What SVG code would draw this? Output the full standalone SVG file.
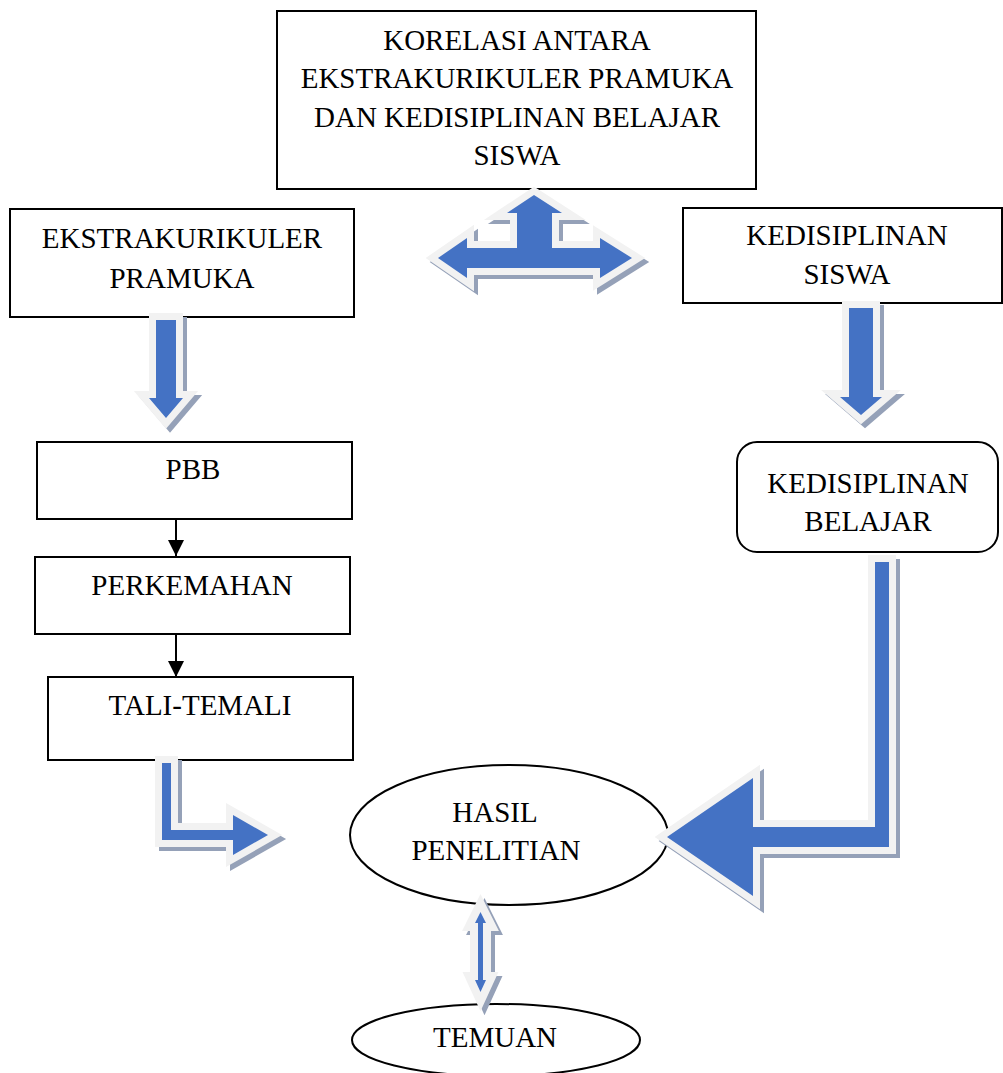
<svg xmlns="http://www.w3.org/2000/svg" width="1003" height="1073" viewBox="0 0 1003 1073">
<style>
.box{fill:#fff;stroke:#000;stroke-width:2}
.t{font-family:"Liberation Serif","Times New Roman",serif;font-size:29px;fill:#000;text-anchor:middle}
.shadow{fill:#95a1b8;stroke:#95a1b8;stroke-width:14;stroke-linejoin:miter;stroke-miterlimit:6}
.blk{fill:#4472c4;stroke:#f2f2f2;stroke-width:14;stroke-linejoin:miter;stroke-miterlimit:6;paint-order:stroke}
.thin .shadow,.thin .blk{stroke-width:16}
.line{stroke:#000;stroke-width:2;fill:none}
</style>
<defs>
<marker id="ah" viewBox="0 0 10 10" refX="10" refY="5" markerWidth="16" markerHeight="17" markerUnits="userSpaceOnUse" orient="auto"><path d="M0,0 L10,5 L0,10 Z" fill="#000"/></marker>
</defs>
<rect width="1003" height="1073" fill="#fff"/>
<g id="korelasi">
<rect class="box" x="277" y="11" width="479" height="178"/>
<text class="t" x="517" y="50">KORELASI ANTARA</text>
<text class="t" x="517" y="88">EKSTRAKURIKULER PRAMUKA</text>
<text class="t" x="517" y="127">DAN KEDISIPLINAN BELAJAR</text>
<text class="t" x="517" y="165">SISWA</text>
</g>
<g id="ekstrakurikuler">
<rect class="box" x="10" y="209" width="344" height="108"/>
<text class="t" x="182" y="248">EKSTRAKURIKULER</text>
<text class="t" x="182" y="288">PRAMUKA</text>
</g>
<g id="kedisiplinan-siswa">
<rect class="box" x="683" y="208" width="319" height="95"/>
<text class="t" x="847" y="245">KEDISIPLINAN</text>
<text class="t" x="847" y="284">SISWA</text>
</g>
<g id="pbb">
<rect class="box" x="37" y="442" width="315" height="77"/>
<text class="t" x="193" y="479">PBB</text>
</g>
<g id="perkemahan">
<rect class="box" x="35" y="557" width="315" height="77"/>
<text class="t" x="192" y="595">PERKEMAHAN</text>
</g>
<g id="tali-temali">
<rect class="box" x="48" y="677" width="305" height="83"/>
<text class="t" x="200" y="715">TALI-TEMALI</text>
</g>
<g id="kedisiplinan-belajar">
<rect class="box" x="737" y="442" width="261" height="110" rx="20" ry="20"/>
<text class="t" x="868" y="493">KEDISIPLINAN</text>
<text class="t" x="868" y="531">BELAJAR</text>
</g>
<g id="hasil-penelitian">
<ellipse class="box" cx="509" cy="835" rx="159" ry="70"/>
<text class="t" x="495" y="822">HASIL</text>
<text class="t" x="496" y="860">PENELITIAN</text>
</g>
<g id="temuan">
<ellipse class="box" cx="496" cy="1040" rx="144" ry="36"/>
<text class="t" x="495" y="1047">TEMUAN</text>
</g>
<g id="connectors">
<line class="line" x1="176" y1="519" x2="176" y2="556" marker-end="url(#ah)"/>
<line class="line" x1="176" y1="634" x2="176" y2="677" marker-end="url(#ah)"/>
<g id="arrow-ekstra-pbb">
<path class="shadow" transform="translate(4,4)" d="M156,320 L176,320 L176,398 L183,398 L166,418 L149,398 L156,398 Z"/>
<path class="blk" d="M156,320 L176,320 L176,398 L183,398 L166,418 L149,398 L156,398 Z"/>
</g>
<g id="arrow-siswa-belajar">
<path class="shadow" transform="translate(4,4)" d="M849,308 L873,308 L873,397 L882,397 L861,415 L840,397 L849,397 Z"/>
<path class="blk" d="M849,308 L873,308 L873,397 L882,397 L861,415 L840,397 L849,397 Z"/>
</g>
<g id="arrow-threeway">
<path class="shadow" transform="translate(4,4)" d="M534,195 L562,213 L552,213 L552,248 L600,248 L600,238 L632,258 L600,278 L600,268 L467,268 L467,278 L438,258 L467,238 L467,248 L517,248 L517,213 L507,213 Z"/>
<path class="blk" d="M534,195 L562,213 L552,213 L552,248 L600,248 L600,238 L632,258 L600,278 L600,268 L467,268 L467,278 L438,258 L467,238 L467,248 L517,248 L517,213 L507,213 Z"/>
</g>
<g id="arrow-tali-hasil">
<path class="shadow" transform="translate(4,4)" d="M162,763 L171,763 L171,830 L233,830 L233,815 L268,835 L233,855 L233,840 L162,840 Z"/>
<path class="blk" d="M162,763 L171,763 L171,830 L233,830 L233,815 L268,835 L233,855 L233,840 L162,840 Z"/>
</g>
<g id="arrow-belajar-hasil">
<path class="shadow" transform="translate(4,4)" d="M875,562 L889,562 L889,847 L753,847 L753,896 L667,837 L753,778 L753,827 L875,827 Z"/>
<path class="blk" d="M875,562 L889,562 L889,847 L753,847 L753,896 L667,837 L753,778 L753,827 L875,827 Z"/>
</g>
<g id="arrow-hasil-temuan" class="thin">
<path class="shadow" transform="translate(4,4)" d="M480.5,912 L486,923 L483,923 L483,980 L486,980 L480.5,992 L475,980 L478,980 L478,923 L475,923 Z"/>
<path class="blk" d="M480.5,912 L486,923 L483,923 L483,980 L486,980 L480.5,992 L475,980 L478,980 L478,923 L475,923 Z"/>
</g>
</g>
</svg>
